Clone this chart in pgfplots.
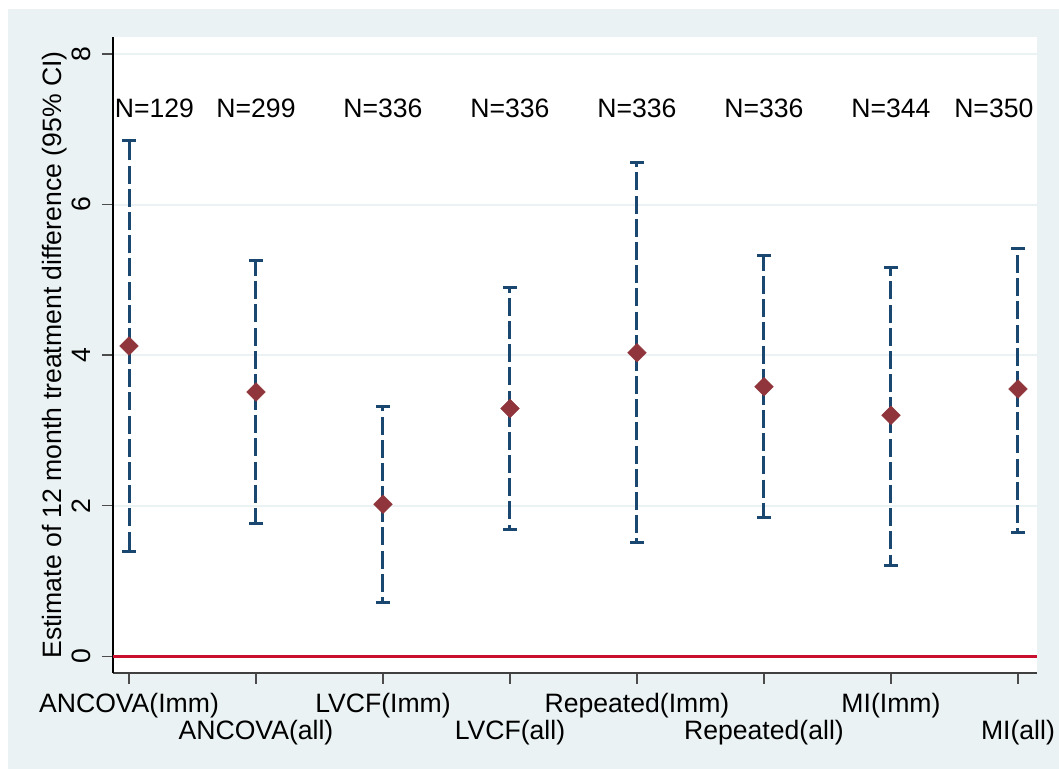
\documentclass[border=0pt]{standalone}
\usepackage{fontspec}
\setmainfont{Liberation Sans}
\usepackage{pgfplots}
\usepackage{pgfplotstable}
\pgfplotsset{compat=1.18}
\definecolor{bgc}{RGB}{234,242,243}
\definecolor{navyc}{RGB}{26,71,111}
\definecolor{maroonc}{RGB}{144,53,59}
\definecolor{zred}{RGB}{200,16,46}
\pgfplotstableread{
x est lo hi
1 4.12 1.39 6.85
2 3.51 1.77 5.25
3 2.02 0.71 3.32
4 3.29 1.69 4.90
5 4.03 1.51 6.56
6 3.58 1.84 5.32
7 3.20 1.21 5.17
8 3.55 1.65 5.42
}\cidata
\newcommand{\lblfont}{\fontsize{13.3}{16}\selectfont}
\begin{document}
\begin{tikzpicture}
\useasboundingbox (0pt,0pt) rectangle (529.5pt,384.5pt);
\fill[white] (0pt,0pt) rectangle (529.5pt,384.5pt);
\fill[bgc] (4pt,0pt) rectangle (529.5pt,380pt);
\begin{axis}[
  at={(56.5pt,48pt)}, anchor=south west,
  scale only axis, width=462pt, height=318pt,
  xmin=0.874, xmax=8.15, ymin=-0.222, ymax=8.225,
  axis x line*=bottom, axis y line*=left,
  x axis line style={-, black!75, line width=1pt},
  y axis line style={-, black, line width=1pt},
  axis background/.style={fill=white},
  tick align=outside, major tick length=5.5pt,
  every tick/.style={black!70, line width=0.75pt},
  xtick={1,2,3,4,5,6,7,8},
  xticklabels={ANCOVA(Imm), \raisebox{-13.3pt}{ANCOVA(all)}, LVCF(Imm), \raisebox{-13.3pt}{LVCF(all)}, Repeated(Imm), \raisebox{-13.3pt}{Repeated(all)}, MI(Imm), \raisebox{-13.3pt}{MI(all)}},
  ytick={0,2,4,6,8},
  ymajorgrids, grid style={bgc, line width=1pt},
  /pgf/number format/assume math mode=true,
  tick label style={font=\lblfont},
  xticklabel style={anchor=base, yshift=-14.35pt},
  yticklabel style={xshift=-5.65pt, rotate=90, anchor=base},
  ylabel={Estimate of 12 month treatment difference (95\% CI)},
  every axis y label/.style={at={(axis description cs:0,0.5)}, xshift=-25.5pt, rotate=90, anchor=base, font=\lblfont},
  clip=false,
]
\addplot[zred, line width=1.4pt, forget plot] coordinates {(0.874,0) (8.15,0)};
\addplot[only marks, mark=none, forget plot,
  error bars/.cd, y dir=both, y explicit, error mark=none,
  error bar style={draw=navyc, line width=1.5pt, dash pattern=on 9pt off 2.6pt}]
  table[x=x, y=est, y error plus expr=\thisrow{hi}-\thisrow{est}, y error minus expr=\thisrow{est}-\thisrow{lo}] {\cidata};
\addplot[only marks, mark=-, mark size=3.6pt, mark options={draw=navyc, line width=1.5pt, solid}, forget plot] table[x=x, y=lo] {\cidata};
\addplot[only marks, mark=-, mark size=3.6pt, mark options={draw=navyc, line width=1.5pt, solid}, forget plot] table[x=x, y=hi] {\cidata};
\addplot[only marks, mark=square*, mark size=3.3pt, mark options={rotate=45, fill=maroonc, draw=maroonc, line width=0.2pt}] table[x=x, y=est] {\cidata};
\node[anchor=base, font=\lblfont] at (axis cs:1.20,7.16) {N=129};
\node[anchor=base, font=\lblfont] at (axis cs:2,7.16) {N=299};
\node[anchor=base, font=\lblfont] at (axis cs:3,7.16) {N=336};
\node[anchor=base, font=\lblfont] at (axis cs:4,7.16) {N=336};
\node[anchor=base, font=\lblfont] at (axis cs:5,7.16) {N=336};
\node[anchor=base, font=\lblfont] at (axis cs:6,7.16) {N=336};
\node[anchor=base, font=\lblfont] at (axis cs:7,7.16) {N=344};
\node[anchor=base, font=\lblfont] at (axis cs:7.81,7.16) {N=350};
\end{axis}
\end{tikzpicture}
\end{document}
